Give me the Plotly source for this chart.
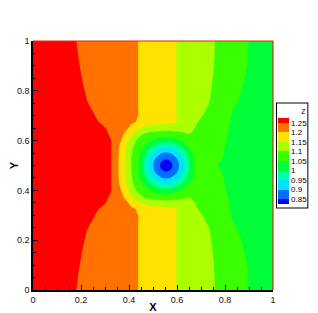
import plotly.graph_objects as go

# Grid coordinates
x_nodes = [0, 0.1, 0.185, 0.25, 0.3, 0.335, 0.36, 0.385, 0.41, 0.435, 0.46, 0.485, 0.51,
           0.535, 0.545, 0.555, 0.565, 0.575, 0.6, 0.625, 0.65, 0.68, 0.72, 0.76, 0.83, 0.9, 1.0]
y_nodes = [0, 0.1, 0.2, 0.25, 0.3, 0.325, 0.35, 0.375, 0.4, 0.425, 0.45, 0.475, 0.49, 0.5,
           0.51, 0.525, 0.55, 0.575, 0.6, 0.625, 0.65, 0.675, 0.7, 0.75, 0.8, 0.9, 1.0]

# Z values, one row per y node (bottom to top)
z_rows = [
    [1.29, 1.268, 1.249, 1.237, 1.227, 1.22, 1.215, 1.21, 1.205, 1.201, 1.193, 1.185, 1.178, 1.17, 1.167, 1.164, 1.161, 1.158, 1.149, 1.142, 1.134, 1.125, 1.113, 1.099, 1.075, 1.049, 1.02],
    [1.29, 1.27, 1.252, 1.239, 1.228, 1.221, 1.216, 1.211, 1.206, 1.201, 1.193, 1.185, 1.178, 1.17, 1.167, 1.164, 1.161, 1.158, 1.149, 1.142, 1.134, 1.124, 1.111, 1.098, 1.072, 1.047, 1.02],
    [1.29, 1.272, 1.256, 1.243, 1.231, 1.223, 1.218, 1.212, 1.206, 1.201, 1.193, 1.185, 1.178, 1.17, 1.167, 1.164, 1.161, 1.158, 1.149, 1.141, 1.133, 1.122, 1.109, 1.093, 1.061, 1.041, 1.02],
    [1.29, 1.273, 1.259, 1.246, 1.234, 1.225, 1.219, 1.213, 1.207, 1.201, 1.193, 1.185, 1.178, 1.17, 1.167, 1.164, 1.161, 1.158, 1.149, 1.141, 1.132, 1.12, 1.106, 1.088, 1.054, 1.039, 1.02],
    [1.29, 1.275, 1.262, 1.252, 1.24, 1.23, 1.222, 1.215, 1.208, 1.201, 1.193, 1.185, 1.178, 1.17, 1.167, 1.164, 1.161, 1.158, 1.149, 1.138, 1.126, 1.112, 1.094, 1.076, 1.048, 1.037, 1.02],
    [1.29, 1.276, 1.264, 1.255, 1.245, 1.234, 1.225, 1.217, 1.209, 1.196, 1.183, 1.174, 1.17, 1.169, 1.167, 1.164, 1.161, 1.158, 1.149, 1.135, 1.121, 1.103, 1.086, 1.07, 1.047, 1.036, 1.02],
    [1.29, 1.277, 1.266, 1.257, 1.251, 1.239, 1.229, 1.217, 1.182, 1.16, 1.142, 1.129, 1.122, 1.12, 1.12, 1.12, 1.12, 1.12, 1.122, 1.129, 1.115, 1.097, 1.081, 1.066, 1.046, 1.035, 1.02],
    [1.29, 1.278, 1.267, 1.259, 1.253, 1.246, 1.234, 1.186, 1.155, 1.123, 1.098, 1.085, 1.08, 1.075, 1.074, 1.074, 1.074, 1.075, 1.08, 1.085, 1.098, 1.095, 1.08, 1.064, 1.045, 1.035, 1.02],
    [1.29, 1.278, 1.268, 1.26, 1.256, 1.248, 1.213, 1.169, 1.13, 1.093, 1.079, 1.057, 1.037, 1.023, 1.022, 1.021, 1.022, 1.023, 1.037, 1.057, 1.079, 1.094, 1.078, 1.062, 1.044, 1.034, 1.02],
    [1.29, 1.278, 1.268, 1.26, 1.256, 1.248, 1.198, 1.158, 1.113, 1.075, 1.053, 1.009, 0.984, 0.959, 0.954, 0.952, 0.954, 0.959, 0.984, 1.009, 1.053, 1.082, 1.076, 1.059, 1.043, 1.034, 1.02],
    [1.29, 1.278, 1.268, 1.26, 1.256, 1.248, 1.194, 1.151, 1.103, 1.07, 1.022, 0.977, 0.932, 0.903, 0.898, 0.896, 0.898, 0.903, 0.932, 0.977, 1.022, 1.077, 1.074, 1.057, 1.043, 1.033, 1.02],
    [1.29, 1.278, 1.268, 1.26, 1.256, 1.248, 1.191, 1.149, 1.099, 1.061, 1.007, 0.945, 0.896, 0.863, 0.855, 0.851, 0.855, 0.863, 0.896, 0.945, 1.007, 1.069, 1.073, 1.055, 1.042, 1.033, 1.02],
    [1.29, 1.278, 1.268, 1.26, 1.256, 1.248, 1.191, 1.148, 1.099, 1.059, 0.999, 0.936, 0.886, 0.845, 0.829, 0.821, 0.829, 0.845, 0.886, 0.936, 0.999, 1.067, 1.071, 1.052, 1.042, 1.033, 1.02],
    [1.29, 1.278, 1.268, 1.26, 1.256, 1.248, 1.191, 1.148, 1.099, 1.059, 0.998, 0.935, 0.884, 0.84, 0.82, 0.80, 0.82, 0.84, 0.884, 0.935, 0.998, 1.067, 1.071, 1.052, 1.042, 1.033, 1.02],
    [1.29, 1.278, 1.268, 1.26, 1.256, 1.248, 1.191, 1.148, 1.099, 1.059, 0.999, 0.936, 0.886, 0.845, 0.829, 0.821, 0.829, 0.845, 0.886, 0.936, 0.999, 1.067, 1.071, 1.052, 1.042, 1.033, 1.02],
    [1.29, 1.278, 1.268, 1.26, 1.256, 1.248, 1.191, 1.149, 1.099, 1.061, 1.007, 0.945, 0.896, 0.863, 0.855, 0.851, 0.855, 0.863, 0.896, 0.945, 1.007, 1.069, 1.073, 1.055, 1.042, 1.033, 1.02],
    [1.29, 1.278, 1.268, 1.26, 1.256, 1.248, 1.194, 1.151, 1.103, 1.07, 1.022, 0.977, 0.932, 0.903, 0.898, 0.896, 0.898, 0.903, 0.932, 0.977, 1.022, 1.077, 1.074, 1.057, 1.043, 1.033, 1.02],
    [1.29, 1.278, 1.268, 1.26, 1.256, 1.248, 1.198, 1.158, 1.113, 1.075, 1.053, 1.009, 0.984, 0.959, 0.954, 0.952, 0.954, 0.959, 0.984, 1.009, 1.053, 1.082, 1.076, 1.059, 1.043, 1.034, 1.02],
    [1.29, 1.278, 1.268, 1.26, 1.256, 1.248, 1.213, 1.169, 1.13, 1.093, 1.079, 1.057, 1.037, 1.023, 1.022, 1.021, 1.022, 1.023, 1.037, 1.057, 1.079, 1.094, 1.078, 1.062, 1.044, 1.034, 1.02],
    [1.29, 1.278, 1.267, 1.259, 1.253, 1.246, 1.234, 1.186, 1.155, 1.123, 1.098, 1.085, 1.08, 1.075, 1.074, 1.074, 1.074, 1.075, 1.08, 1.085, 1.098, 1.095, 1.08, 1.064, 1.045, 1.035, 1.02],
    [1.29, 1.277, 1.266, 1.257, 1.251, 1.239, 1.229, 1.217, 1.182, 1.16, 1.142, 1.129, 1.122, 1.12, 1.12, 1.12, 1.12, 1.12, 1.122, 1.129, 1.115, 1.097, 1.081, 1.066, 1.046, 1.035, 1.02],
    [1.29, 1.276, 1.264, 1.255, 1.245, 1.234, 1.225, 1.217, 1.209, 1.196, 1.183, 1.174, 1.17, 1.169, 1.167, 1.164, 1.161, 1.158, 1.149, 1.135, 1.121, 1.103, 1.086, 1.07, 1.047, 1.036, 1.02],
    [1.29, 1.275, 1.262, 1.252, 1.24, 1.23, 1.222, 1.215, 1.208, 1.201, 1.193, 1.185, 1.178, 1.17, 1.167, 1.164, 1.161, 1.158, 1.149, 1.138, 1.126, 1.112, 1.094, 1.076, 1.048, 1.037, 1.02],
    [1.29, 1.273, 1.259, 1.246, 1.234, 1.225, 1.219, 1.213, 1.207, 1.201, 1.193, 1.185, 1.178, 1.17, 1.167, 1.164, 1.161, 1.158, 1.149, 1.141, 1.132, 1.12, 1.106, 1.088, 1.054, 1.039, 1.02],
    [1.29, 1.272, 1.256, 1.243, 1.231, 1.223, 1.218, 1.212, 1.206, 1.201, 1.193, 1.185, 1.178, 1.17, 1.167, 1.164, 1.161, 1.158, 1.149, 1.141, 1.133, 1.122, 1.109, 1.093, 1.061, 1.041, 1.02],
    [1.29, 1.27, 1.252, 1.239, 1.228, 1.221, 1.216, 1.211, 1.206, 1.201, 1.193, 1.185, 1.178, 1.17, 1.167, 1.164, 1.161, 1.158, 1.149, 1.142, 1.134, 1.124, 1.111, 1.098, 1.072, 1.047, 1.02],
    [1.29, 1.268, 1.249, 1.237, 1.227, 1.22, 1.215, 1.21, 1.205, 1.201, 1.193, 1.185, 1.178, 1.17, 1.167, 1.164, 1.161, 1.158, 1.149, 1.142, 1.134, 1.125, 1.113, 1.099, 1.075, 1.049, 1.02],
]

# Contour levels and legend labels
level_start = 0.85
level_end = 1.25
level_step = 0.05
legend_vals = [0.85, 0.9, 0.95, 1.0, 1.05, 1.1, 1.15, 1.2, 1.25]
legend_text = ["0.85", "0.9", "0.95", "1", "1.05", "1.1", "1.15", "1.2", "1.25"]
tick_vals = [0, 0.2, 0.4, 0.6, 0.8, 1]
tick_text = ["0", "0.2", "0.4", "0.6", "0.8", "1"]

rainbow = [[0.0, "rgb(0,0,255)"], [0.25, "rgb(0,255,255)"], [0.5, "rgb(0,255,0)"],
           [0.75, "rgb(255,255,0)"], [1.0, "rgb(255,0,0)"]]

FONT = "Liberation Sans, Arial, Helvetica, sans-serif"

fig = go.Figure()
fig.add_trace(go.Contour(
    x=x_nodes, y=y_nodes, z=z_rows,
    colorscale=rainbow,
    contours=dict(start=level_start, end=level_end, size=level_step,
                  coloring="fill", showlines=False),
    line=dict(width=0, smoothing=1.2),
    hoverinfo="skip",
    colorbar=dict(
        title=dict(text="&nbsp;&nbsp;&nbsp;&nbsp;&nbsp;&nbsp;&nbsp;&nbsp;&nbsp;&nbsp;&nbsp;&nbsp;Z", side="top",
                   font=dict(size=7, family=FONT, color="black")),
        tickvals=legend_vals, ticktext=legend_text,
        tickfont=dict(size=8, family=FONT, color="black"),
        ticks="", outlinewidth=0,
        thickness=11, thicknessmode="pixels",
        len=104, lenmode="pixels",
        x=1.0167, xanchor="left", y=0.751, yanchor="top",
        bgcolor="white", bordercolor="black", borderwidth=1,
        xpad=1, ypad=3,
    ),
))

axis_common = dict(
    range=[0, 1], tickvals=tick_vals, ticktext=tick_text,
    ticks="inside", ticklen=5, tickwidth=1, tickcolor="black",
    showline=True, linecolor="black", linewidth=1.5,
    showgrid=False, zeroline=False,
    minor=dict(ticks="inside", ticklen=3, tickwidth=1, tickcolor="black", dtick=0.05, showgrid=False),
    tickfont=dict(size=9, family=FONT, color="#111"),
)

# The page body adds an 8px offset, so the figure is sized/placed to compensate.
fig.update_layout(
    width=310, height=305,
    margin=dict(l=25, r=45, t=33, b=23, autoexpand=False),
    paper_bgcolor="white", plot_bgcolor="white",
    xaxis=dict(**axis_common, title=dict(text="<b>X</b>", font=dict(size=11, family=FONT, color="black"), standoff=2)),
    yaxis=dict(**axis_common, title=dict(text="<b>Y</b>", font=dict(size=11, family=FONT, color="black"), standoff=4)),
    showlegend=False,
    shapes=[
        dict(type="line", xref="paper", yref="paper", x0=0, x1=1, y0=1, y1=1, line=dict(color="rgb(230,40,0)", width=1)),
        dict(type="line", xref="paper", yref="paper", x0=1, x1=1, y0=0, y1=1, line=dict(color="rgb(230,0,0)", width=1)),
    ],
)

fig.write_html("out.html")
